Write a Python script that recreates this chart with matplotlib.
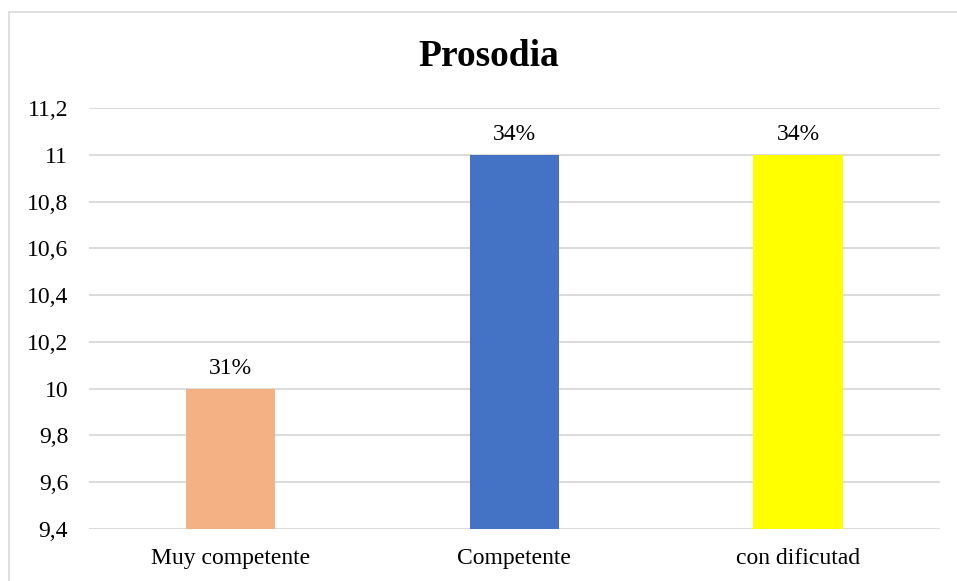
import matplotlib.pyplot as plt
from matplotlib.patches import Rectangle
from matplotlib.ticker import FuncFormatter

plt.rcParams['font.family'] = ['Liberation Serif', 'DejaVu Serif']

categories = ['Muy competente', 'Competente', 'con dificutad']
values = [10, 11, 11]
labels = ['31%', '34%', '34%']
colors = ['#f4b183', '#4472c4', '#ffff00']

fig = plt.figure(figsize=(9.57, 5.81), dpi=100)
ax = fig.add_axes([0.093, 0.0895, 0.889, 0.7245])

# outer chart border
fig.patches.append(Rectangle((9 / 957, -0.05), 1.1, 1 - 12 / 581 + 0.05,
                             transform=fig.transFigure, fill=False,
                             edgecolor='#d9d9d9', linewidth=1.2))

x = range(len(categories))
bars = ax.bar(x, values, width=0.314, color=colors, bottom=0)
for b, lab in zip(bars, labels):
    ax.annotate(lab, (b.get_x() + b.get_width() / 2, b.get_height()),
                xytext=(0, 7), textcoords='offset points',
                ha='center', va='bottom', fontsize=17)

ax.set_ylim(9.4, 11.2)
ax.set_xlim(-0.5, 2.5)
ax.set_yticks([9.4 + 0.2 * i for i in range(10)])
ax.yaxis.set_major_formatter(FuncFormatter(
    lambda v, p: ('%.1f' % v).rstrip('0').rstrip('.').replace('.', ',')))
ax.set_xticks(list(x))
ax.set_xticklabels(categories)
ax.tick_params(length=0, labelsize=17)
ax.tick_params(axis='x', pad=14)
ax.tick_params(axis='y', pad=15)
ax.grid(axis='y', color='#d9d9d9', linewidth=1.3)
ax.set_axisbelow(True)
for s in ax.spines.values():
    s.set_visible(False)

fig.text(489 / 957, 1 - 57 / 581, 'Prosodia', ha='center', va='center',
         fontsize=27, fontweight='bold')

fig.savefig('out.png', dpi=100)
